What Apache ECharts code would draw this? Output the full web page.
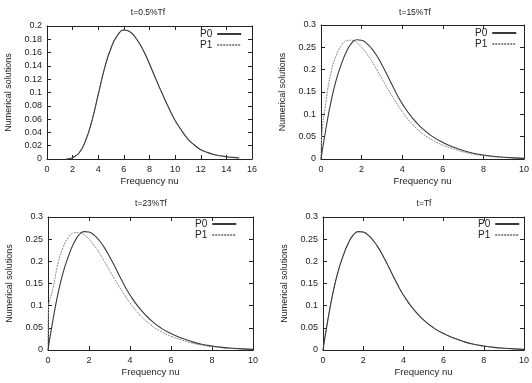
<!DOCTYPE html>
<html><head><meta charset="utf-8">
<script src="https://cdn.jsdelivr.net/npm/echarts@6/dist/echarts.min.js"></script>
<style>html,body{margin:0;padding:0;background:#fff}#c{width:532px;height:383px}</style>
</head><body><div id="c"></div>
<script>
// Panel titles
const titles = ['t=0.5%Tf', 't=15%Tf', 't=23%Tf', 't=Tf'];
const xName = 'Frequency nu';
const yName = 'Numerical solutions';
const seriesNames = ['P0', 'P1'];

// Panel 1 (t=0.5%Tf)
const nu1 = [1.5,1.7,2,2.5,3,3.5,4,4.5,5,5.5,6,6.5,7,7.5,8,8.5,9,9.5,10,10.5,11,11.5,12,12.5,13,13.5,14,14.5,15];
const p0_1 = [0,0.0005,0.002,0.009,0.027,0.057,0.097,0.137,0.167,0.186,0.194,0.191,0.180,0.164,0.143,0.120,0.098,0.077,0.058,0.043,0.030,0.021,0.014,0.010,0.0068,0.0048,0.0035,0.0024,0.0015];
const p1_1 = [0,0.0005,0.002,0.009,0.027,0.057,0.097,0.137,0.167,0.186,0.194,0.191,0.180,0.164,0.143,0.120,0.098,0.077,0.058,0.043,0.030,0.021,0.014,0.010,0.0068,0.0048,0.0035,0.0024,0.0015];

// Panel 2 (t=15%Tf)
const nu2a = [0,0.25,0.5,0.75,1,1.25,1.5,1.75,2,2.25,2.5,2.75,3,3.25,3.5,3.75,4,4.5,5,5.5,6,6.5,7,7.5,8,8.5,9,9.5,10];
const p0_2 = [0,0.07,0.13,0.177,0.212,0.240,0.259,0.267,0.266,0.259,0.247,0.231,0.211,0.189,0.166,0.144,0.124,0.092,0.068,0.050,0.037,0.027,0.019,0.013,0.009,0.006,0.004,0.0025,0.0015];
const nu2b = [0,0.03,0.25,0.5,0.75,1,1.25,1.5,1.75,2,2.25,2.5,2.75,3,3.25,3.5,3.75,4,4.5,5,5.5,6,6.5,7,7.5,8,8.5,9,9.5,10];
const p1_2 = [0,0.045,0.13,0.195,0.232,0.254,0.265,0.266,0.261,0.250,0.236,0.219,0.200,0.180,0.160,0.141,0.123,0.106,0.078,0.057,0.042,0.031,0.023,0.016,0.011,0.0075,0.005,0.0033,0.002,0.0012];

// Panel 3 (t=23%Tf)
const nu3a = [0,0.25,0.5,0.75,1,1.25,1.5,1.75,2,2.25,2.5,2.75,3,3.25,3.5,3.75,4,4.5,5,5.5,6,6.5,7,7.5,8,8.5,9,9.5,10];
const p0_3 = [0,0.07,0.13,0.177,0.212,0.240,0.259,0.267,0.266,0.259,0.247,0.231,0.211,0.189,0.166,0.144,0.124,0.092,0.068,0.050,0.037,0.027,0.019,0.013,0.009,0.006,0.004,0.0025,0.0015];
const nu3b = [0,0.02,0.25,0.5,0.75,1,1.25,1.5,1.75,2,2.25,2.5,2.75,3,3.25,3.5,3.75,4,4.5,5,5.5,6,6.5,7,7.5,8,8.5,9,9.5,10];
const p1_3 = [0,0.09,0.14,0.197,0.233,0.254,0.264,0.265,0.260,0.250,0.236,0.219,0.200,0.180,0.160,0.141,0.123,0.106,0.078,0.057,0.042,0.031,0.023,0.016,0.011,0.0075,0.005,0.0033,0.002,0.0012];

// Panel 4 (t=Tf)
const nu4 = [0,0.25,0.5,0.75,1,1.25,1.5,1.75,2,2.25,2.5,2.75,3,3.25,3.5,3.75,4,4.5,5,5.5,6,6.5,7,7.5,8,8.5,9,9.5,10];
const p0_4 = [0,0.07,0.13,0.177,0.212,0.240,0.259,0.267,0.266,0.259,0.247,0.231,0.211,0.189,0.166,0.144,0.124,0.092,0.068,0.050,0.037,0.027,0.019,0.013,0.009,0.006,0.004,0.0025,0.0015];
const p1_4 = [0,0.07,0.13,0.177,0.212,0.240,0.259,0.267,0.266,0.259,0.247,0.231,0.211,0.189,0.166,0.144,0.124,0.092,0.068,0.050,0.037,0.027,0.019,0.013,0.009,0.006,0.004,0.0025,0.0015];

// Axis ranges
const xMax = [16, 10, 10, 10];
const xInt = [2, 2, 2, 2];
const yMax = [0.2, 0.3, 0.3, 0.3];
const yInt = [0.02, 0.05, 0.05, 0.05];

const pairs = (xs, ys) => xs.map((x, i) => [x, ys[i]]);
const panelData = [
  [pairs(nu1, p0_1), pairs(nu1, p1_1)],
  [pairs(nu2a, p0_2), pairs(nu2b, p1_2)],
  [pairs(nu3a, p0_3), pairs(nu3b, p1_3)],
  [pairs(nu4, p0_4), pairs(nu4, p1_4)]
];

// layout
const grids = [
  {left: 47, top: 26, width: 205, height: 133},
  {left: 321, top: 25, width: 204, height: 134},
  {left: 48, top: 217, width: 205, height: 133},
  {left: 323, top: 217, width: 204, height: 133}
];
const titlePos = [[148, 13], [415, 13], [151, 204], [424, 204]];
const legendPos = [[200, 29], [475, 28], [195, 219], [478, 219]];

const FONT = 'Liberation Sans, Arial, sans-serif';
const TXT = '#222';
const lineC = '#222';

const xAxes = [], yAxes = [], series = [], legends = [], graphics = [];
grids.forEach((g, i) => {
  const common = {min: 0, splitLine: {show: false},
    axisLine: {show: true, onZero: false, lineStyle: {color: lineC, width: 1}},
    axisTick: {show: true, inside: true, length: 4, lineStyle: {color: lineC}}};
  xAxes.push(Object.assign({}, common, {type: 'value', gridIndex: i, position: 'bottom', max: xMax[i], interval: xInt[i],
    name: xName, nameLocation: 'middle', nameGap: 17, nameTextStyle: {fontFamily: FONT, fontSize: 9.5, color: TXT},
    axisLabel: {fontFamily: FONT, fontSize: 9, color: TXT, margin: 6}}));
  xAxes.push(Object.assign({}, common, {type: 'value', gridIndex: i, position: 'top', max: xMax[i], interval: xInt[i],
    axisLabel: {show: false}}));
  yAxes.push(Object.assign({}, common, {type: 'value', gridIndex: i, position: 'left', max: yMax[i], interval: yInt[i],
    name: yName, nameLocation: 'middle', nameGap: 34, nameRotate: 90, nameTextStyle: {fontFamily: FONT, fontSize: 9, color: TXT},
    axisLabel: {fontFamily: FONT, fontSize: 9, color: TXT, margin: 5}}));
  yAxes.push(Object.assign({}, common, {type: 'value', gridIndex: i, position: 'right', max: yMax[i], interval: yInt[i],
    axisLabel: {show: false}}));
  series.push({name: 'P0', type: 'line', xAxisIndex: 2 * i, yAxisIndex: 2 * i, data: panelData[i][0],
    showSymbol: false, symbol: 'none', smooth: 0.5, z: 3,
    lineStyle: {color: '#3a3a3a', width: 1.1, type: 'solid'}, itemStyle: {color: '#3a3a3a'}});
  series.push({name: 'P1', type: 'line', xAxisIndex: 2 * i, yAxisIndex: 2 * i, data: panelData[i][1],
    showSymbol: false, symbol: 'none', smooth: 0.5, z: 2,
    lineStyle: {color: '#8a8a8a', width: 1, type: [2, 1]}, itemStyle: {color: '#8a8a8a'}});
  legends.push({data: seriesNames, left: legendPos[i][0], top: legendPos[i][1], orient: 'vertical', align: 'right',
    padding: 0, itemGap: 1, itemWidth: 24, itemHeight: 9,
    itemStyle: {color: 'rgba(0,0,0,0)', borderColor: 'rgba(0,0,0,0)', borderWidth: 0, opacity: 0},
    textStyle: {fontFamily: FONT, fontSize: 10, color: TXT, lineHeight: 9}, selectedMode: false});
  graphics.push({type: 'text', x: titlePos[i][0], y: titlePos[i][1],
    style: {text: titles[i], font: '8.5px ' + FONT, fill: TXT, align: 'center', verticalAlign: 'middle'}});
});

const chart = echarts.init(document.getElementById('c'), null, {renderer: 'canvas'});
chart.setOption({
  animation: false,
  backgroundColor: '#fff',
  grid: grids,
  xAxis: xAxes,
  yAxis: yAxes,
  series: series,
  legend: legends,
  graphic: graphics
});
</script>
</body></html>
